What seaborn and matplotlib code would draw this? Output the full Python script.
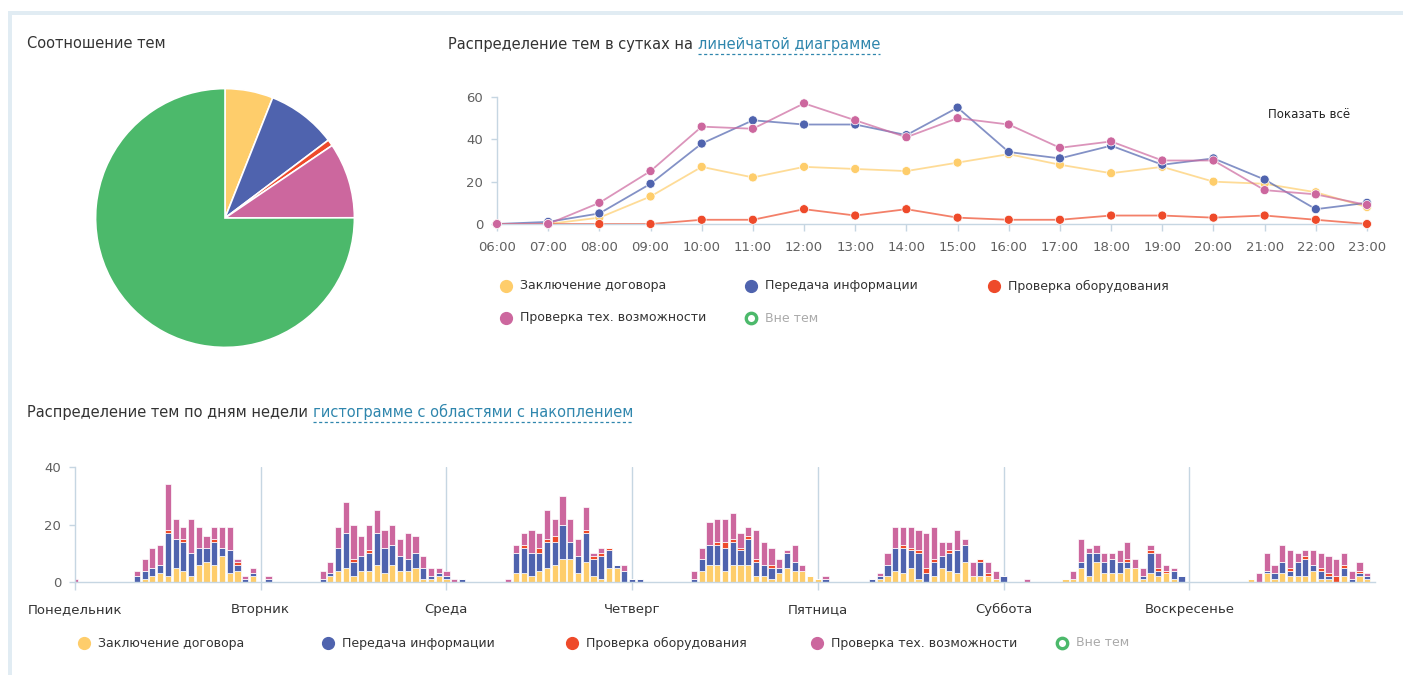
import matplotlib
matplotlib.use("Agg")
import matplotlib.pyplot as plt
from matplotlib.patches import Rectangle
import pandas as pd
import seaborn as sns

W, H = 1403, 675

# ---- данные ----
topics = ["Заключение договора", "Передача информации", "Проверка оборудования",
          "Проверка тех. возможности", "Вне тем"]
colors = ["#fecd6b", "#4f63ae", "#ee4a2a", "#cc679e", "#4cb96b"]

# соотношение тем (круговая)
pie_values = [346, 502, 46, 544, 4320]

# распределение по часам суток
hours = ["06:00", "07:00", "08:00", "09:00", "10:00", "11:00", "12:00", "13:00", "14:00",
         "15:00", "16:00", "17:00", "18:00", "19:00", "20:00", "21:00", "22:00", "23:00"]
contract_by_hour = [0, 0, 3, 13, 27, 22, 27, 26, 25, 29, 33, 28, 24, 27, 20, 19, 15, 8]
info_by_hour = [0, 1, 5, 19, 38, 49, 47, 47, 42, 55, 34, 31, 37, 28, 31, 21, 7, 10]
equip_by_hour = [0, 0, 0, 0, 2, 2, 7, 4, 7, 3, 2, 2, 4, 4, 3, 4, 2, 0]
tech_by_hour = [0, 0, 10, 25, 46, 45, 57, 49, 41, 50, 47, 36, 39, 30, 30, 16, 14, 9]

# распределение по дням недели, 24 часа на день
days = ["Понедельник", "Вторник", "Среда", "Четверг", "Пятница", "Суббота", "Воскресенье"]
contract_week = [
    0, 0, 0, 0, 0, 0, 0, 0, 0, 1, 2, 3, 2, 5, 4, 2, 6, 7, 6, 9, 3, 4, 0, 2,
    0, 0, 0, 0, 0, 0, 0, 0, 0, 2, 4, 5, 2, 4, 4, 6, 3, 6, 4, 4, 5, 1, 1, 2,
    1, 0, 0, 0, 0, 0, 0, 0, 0, 3, 3, 2, 4, 5, 6, 8, 8, 3, 7, 2, 1, 5, 5, 0,
    0, 0, 0, 0, 0, 0, 0, 0, 0, 4, 6, 6, 4, 6, 6, 6, 2, 2, 1, 3, 5, 4, 4, 2,
    1, 0, 0, 0, 0, 0, 0, 0, 1, 2, 4, 3, 5, 1, 0, 2, 5, 4, 3, 7, 2, 2, 2, 1,
    0, 0, 0, 0, 0, 0, 0, 0, 1, 1, 5, 2, 7, 3, 3, 3, 5, 5, 1, 3, 2, 3, 1, 0,
    0, 0, 0, 0, 0, 0, 0, 0, 1, 0, 3, 1, 3, 2, 2, 2, 4, 1, 1, 0, 2, 0, 2, 1,
]
info_week = [
    0, 0, 0, 0, 0, 0, 0, 0, 2, 3, 3, 3, 15, 10, 10, 8, 6, 5, 8, 3, 8, 2, 1, 1,
    0, 1, 0, 0, 0, 0, 0, 0, 1, 1, 8, 12, 5, 5, 6, 11, 9, 7, 5, 4, 5, 4, 1, 1,
    1, 0, 1, 0, 0, 0, 0, 0, 0, 7, 9, 8, 6, 9, 8, 12, 6, 6, 10, 6, 8, 6, 1, 4,
    1, 1, 0, 0, 0, 0, 0, 0, 1, 4, 7, 7, 8, 8, 5, 9, 5, 4, 4, 2, 5, 3, 0, 0,
    0, 1, 0, 0, 0, 0, 0, 1, 1, 4, 8, 9, 6, 9, 3, 5, 4, 6, 8, 6, 0, 5, 0, 0,
    2, 0, 0, 0, 0, 0, 0, 0, 0, 0, 2, 8, 3, 4, 5, 4, 2, 0, 1, 7, 2, 0, 3, 2,
    0, 0, 0, 0, 0, 0, 0, 0, 0, 0, 1, 2, 4, 2, 5, 6, 2, 3, 1, 0, 3, 1, 1, 1,
]
equip_week = [
    0, 0, 0, 0, 0, 0, 0, 0, 0, 0, 0, 0, 1, 0, 1, 0, 0, 0, 1, 0, 0, 1, 0, 0,
    0, 0, 0, 0, 0, 0, 0, 0, 0, 0, 0, 0, 1, 0, 1, 0, 0, 0, 0, 0, 0, 0, 0, 0,
    0, 0, 0, 0, 0, 0, 0, 0, 0, 0, 1, 0, 2, 1, 2, 0, 0, 0, 1, 1, 1, 1, 0, 0,
    0, 0, 0, 0, 0, 0, 0, 0, 0, 0, 0, 1, 2, 1, 1, 1, 1, 0, 1, 0, 0, 0, 0, 0,
    0, 0, 0, 0, 0, 0, 0, 0, 0, 0, 0, 1, 1, 1, 2, 1, 0, 1, 0, 0, 0, 1, 1, 0,
    0, 0, 0, 0, 0, 0, 0, 0, 0, 0, 0, 0, 0, 0, 0, 0, 1, 0, 0, 1, 1, 1, 0, 0,
    0, 0, 0, 0, 0, 0, 0, 0, 0, 0, 0, 0, 0, 1, 0, 1, 0, 1, 1, 2, 1, 0, 1, 0,
]
tech_week = [
    1, 0, 0, 0, 0, 0, 0, 0, 2, 4, 7, 7, 16, 7, 4, 12, 7, 4, 4, 7, 8, 1, 1, 2,
    0, 1, 0, 0, 0, 0, 0, 0, 3, 4, 7, 11, 12, 7, 9, 8, 6, 7, 6, 9, 6, 4, 3, 2,
    2, 1, 0, 0, 0, 0, 0, 0, 1, 3, 4, 8, 5, 10, 6, 10, 8, 6, 8, 1, 2, 0, 0, 2,
    0, 0, 0, 0, 0, 0, 0, 0, 3, 4, 8, 8, 8, 9, 5, 3, 10, 8, 6, 3, 1, 6, 2, 0,
    0, 1, 0, 0, 0, 0, 0, 0, 1, 4, 7, 6, 7, 7, 12, 11, 5, 3, 7, 2, 5, 0, 4, 3,
    0, 0, 0, 1, 0, 0, 0, 0, 0, 3, 8, 2, 3, 3, 2, 4, 6, 3, 3, 2, 5, 2, 1, 0,
    0, 0, 0, 0, 0, 0, 0, 0, 0, 3, 6, 3, 6, 6, 3, 2, 5, 5, 6, 6, 4, 3, 3, 1,
]

TEXT = "#333333"
TICK = "#606060"
AXIS = "#c6d6e2"
LINK = "#2f86ad"

sns.set_theme(style="white")
plt.rcParams["font.family"] = ["DejaVu Sans"]

fig = plt.figure(figsize=(W / 100, H / 100), dpi=100)
fig.patch.set_facecolor("white")


def box(x0, y0, x1, y1):
    """пиксели картинки -> доли фигуры"""
    return [x0 / W, 1 - y1 / H, (x1 - x0) / W, (y1 - y0) / H]


# слой для подписей/легенд в пикселях
lay = fig.add_axes([0, 0, 1, 1], zorder=5)
lay.set_xlim(0, W)
lay.set_ylim(H, 0)
lay.axis("off")
lay.patch.set_alpha(0)

# рамка панели
lay.add_patch(Rectangle((8, 11), W - 8, 4, color="#e1ecf3", lw=0))
lay.add_patch(Rectangle((8, 11), 4, H - 11, color="#e1ecf3", lw=0))

# ---- круговая диаграмма ----
ax_pie = fig.add_axes(box(93, 86, 357, 350))
ax_pie.pie(pie_values, colors=colors, startangle=90, counterclock=False,
           wedgeprops=dict(edgecolor="white", linewidth=1.2))
ax_pie.set_xlim(-1.02, 1.02)
ax_pie.set_ylim(-1.02, 1.02)
ax_pie.set_aspect("equal")

# ---- линейный график по часам ----
ax_line = fig.add_axes(box(497, 97, 1367, 224))
line_df = pd.DataFrame({
    "hour": list(range(len(hours))) * 4,
    "count": contract_by_hour + info_by_hour + equip_by_hour + tech_by_hour,
    "topic": [t for t in topics[:4] for _ in hours],
})
pal = dict(zip(topics, colors))
sns.lineplot(data=line_df, x="hour", y="count", hue="topic", hue_order=topics[:4],
             palette=pal, linewidth=1.3, alpha=0.7, legend=False, ax=ax_line)
sns.scatterplot(data=line_df, x="hour", y="count", hue="topic", hue_order=topics[:4],
                palette=pal, s=42, edgecolor="white", linewidth=0.5, alpha=1,
                legend=False, ax=ax_line, zorder=3)
for art in ax_line.collections + ax_line.lines:
    art.set_clip_on(False)
ax_line.set_xlim(0, len(hours) - 1)
ax_line.set_ylim(0, 60)
ax_line.set_xticks(range(len(hours)))
ax_line.set_xticklabels(hours)
ax_line.set_yticks([0, 20, 40, 60])
ax_line.set_xlabel("")
ax_line.set_ylabel("")
for side in ("top", "right"):
    ax_line.spines[side].set_visible(False)
for side in ("left", "bottom"):
    ax_line.spines[side].set_color(AXIS)
    ax_line.spines[side].set_linewidth(1)
ax_line.tick_params(axis="x", length=5, width=1, color=AXIS, labelsize=9.5,
                    labelcolor=TICK, pad=7, direction="out", bottom=True)
ax_line.tick_params(axis="y", length=4, width=1, color=AXIS, labelsize=9.5,
                    labelcolor=TICK, pad=6, direction="out", left=True)
ax_line.patch.set_alpha(0)

# ---- накопительная гистограмма по дням недели ----
ax_week = fig.add_axes(box(75, 467, 1375, 582))
slots = list(range(len(contract_week)))
week_df = pd.DataFrame({
    "slot": slots * 4,
    "count": contract_week + info_week + equip_week + tech_week,
    "topic": [t for t in topics[:4] for _ in slots],
})
sns.histplot(data=week_df, x="slot", weights="count", hue="topic",
             hue_order=topics[3::-1], palette=pal, multiple="stack",
             discrete=True, shrink=0.8, alpha=1, edgecolor="white",
             linewidth=0.5, legend=False, ax=ax_week)
ax_week.set_xlim(0, len(slots))
ax_week.set_ylim(0, 40)
ax_week.set_yticks([0, 20, 40])
ax_week.set_xticks([24 * i for i in range(len(days))])
ax_week.set_xticklabels(days)
ax_week.set_xlabel("")
ax_week.set_ylabel("")
for d in range(1, len(days)):
    ax_week.axvline(24 * d, color=AXIS, lw=1, zorder=0)
for side in ("top", "right"):
    ax_week.spines[side].set_visible(False)
for side in ("left", "bottom"):
    ax_week.spines[side].set_color(AXIS)
    ax_week.spines[side].set_linewidth(1)
ax_week.tick_params(axis="x", length=6, width=1, color=AXIS, labelsize=9.5,
                    labelcolor=TEXT, pad=9, direction="out", bottom=True)
ax_week.tick_params(axis="y", length=4, width=1, color=AXIS, labelsize=9.5,
                    labelcolor=TICK, pad=6, direction="out", left=True)
ax_week.patch.set_alpha(0)

# ---- заголовки ----
renderer = fig.canvas.get_renderer()


def title_with_link(x, y, text, link):
    t = lay.text(x, y, text, fontsize=10.5, color=TEXT, va="center", ha="left")
    bb = t.get_window_extent(renderer)
    lt = lay.text(bb.x1, y, link, fontsize=10.5, color=LINK, va="center", ha="left")
    lb = lt.get_window_extent(renderer)
    lay.plot([lb.x0, lb.x1], [H - lb.y0 + 2, H - lb.y0 + 2], color=LINK,
             lw=0.9, ls=(0, (2.5, 2)))


lay.text(27, 44, "Соотношение тем", fontsize=10.5, color=TEXT, va="center", ha="left")
title_with_link(448, 44, "Распределение тем в сутках на ", "линейчатой диаграмме")
title_with_link(27, 412, "Распределение тем по дням недели ",
                "гистограмме с областями с накоплением")
lay.text(1309, 114, "Показать всё", fontsize=8.5, color="#222222",
         va="center", ha="center")


# ---- легенды ----
def legend_item(x, y, color, label, off=False):
    if off:
        lay.plot(x, y, "o", ms=7.5, mfc="white", mec=color, mew=2.4)
        lay.text(x + 14, y, label, fontsize=9, color="#aaaaaa", va="center")
    else:
        lay.plot(x, y, "o", ms=8.5, mfc=color, mec=color)
        lay.text(x + 14, y, label, fontsize=9, color=TEXT, va="center")


line_legend_pos = [(506, 286), (751, 286), (994, 286), (506, 318), (751, 318)]
for (lx, ly), c, name in zip(line_legend_pos, colors, topics):
    legend_item(lx, ly, c, name, off=(name == "Вне тем"))

week_legend_x = [84, 328, 572, 817, 1062]
for lx, c, name in zip(week_legend_x, colors, topics):
    legend_item(lx, 643, c, name, off=(name == "Вне тем"))

fig.savefig("out.png", dpi=100, facecolor="white")
